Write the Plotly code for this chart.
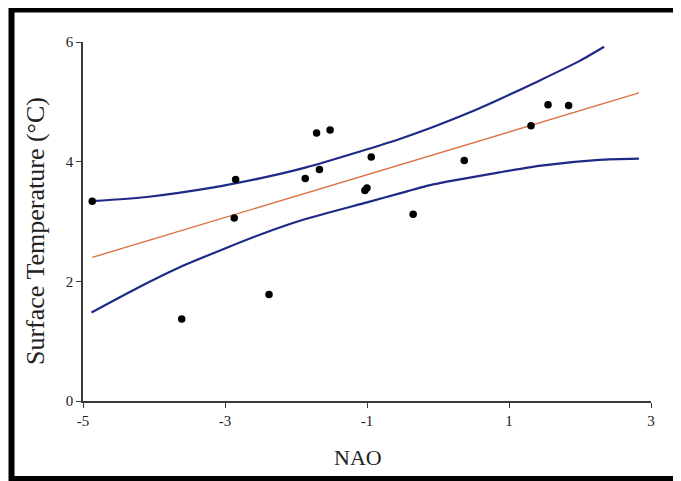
import plotly.graph_objects as go

# Observations (NAO index vs surface temperature)
nao = [-4.87, -3.61, -2.87, -2.85, -2.38, -1.87, -1.71, -1.67, -1.52,
       -1.03, -1.00, -0.94, -0.35, 0.37, 1.31, 1.55, 1.84]
temp = [3.34, 1.37, 3.06, 3.70, 1.78, 3.72, 4.48, 3.87, 4.53,
        3.52, 3.56, 4.08, 3.12, 4.02, 4.60, 4.95, 4.94]

# Regression line
fit_x = [-4.87, 2.83]
fit_y = [2.40, 5.15]

# Upper confidence band
up_x = [-4.87, -4.10, -3.16, -2.51, -1.87, -1.10, -0.54, -0.07, 0.40, 0.86, 1.42, 1.99, 2.34]
up_y = [3.34, 3.41, 3.57, 3.72, 3.90, 4.17, 4.38, 4.58, 4.80, 5.04, 5.35, 5.68, 5.92]

# Lower confidence band
lo_x = [-4.88, -4.20, -3.63, -3.00, -2.51, -1.90, -1.00, -0.54, -0.07, 0.86, 1.42, 2.27, 2.83]
lo_y = [1.48, 1.91, 2.24, 2.55, 2.78, 3.03, 3.32, 3.47, 3.62, 3.82, 3.93, 4.03, 4.05]

x_ticks = [-5, -3, -1, 1, 3]
x_tick_labels = ["-5", "-3", "-1", "1", "3"]
y_ticks = [0, 2, 4, 6]
y_tick_labels = ["0", "2", "4", "6"]

BLUE = "#1f2a86"
ORANGE = "#d9733f"
AXIS = "#3a3a3a"
TEXT = "#222222"
FONT = "Liberation Serif"

fig = go.Figure()
fig.add_trace(go.Scatter(x=up_x, y=up_y, mode="lines",
                         line=dict(color=BLUE, width=2.2, shape="spline", smoothing=0.6),
                         hoverinfo="skip"))
fig.add_trace(go.Scatter(x=lo_x, y=lo_y, mode="lines",
                         line=dict(color=BLUE, width=2.2, shape="spline", smoothing=0.6),
                         hoverinfo="skip"))
fig.add_trace(go.Scatter(x=fit_x, y=fit_y, mode="lines",
                         line=dict(color=ORANGE, width=1.4), hoverinfo="skip"))
fig.add_trace(go.Scatter(x=nao, y=temp, mode="markers",
                         marker=dict(color="black", size=7.5)))

# page has an 8px body margin, so the figure is sized to fill the window
W, H = 673, 473
L, R, T, B = 75, 30, 34, 80
pw, ph = W - L - R, H - T - B


def px(xp):
    return (xp - L) / pw


def py(yp):
    return (H - B - yp) / ph


fig.update_layout(
    width=W, height=H,
    margin=dict(l=L, r=R, t=T, b=B),
    paper_bgcolor="white", plot_bgcolor="white",
    showlegend=False,
    font=dict(family=FONT, color=TEXT),
    xaxis=dict(range=[-5, 3], tickvals=x_ticks, ticktext=x_tick_labels,
               showgrid=False, zeroline=False, showline=True, linecolor=AXIS,
               linewidth=1.5, ticks="outside", ticklen=5, tickcolor=AXIS,
               tickfont=dict(family=FONT, size=15, color=TEXT),
               automargin=False),
    yaxis=dict(range=[0, 6], tickvals=y_ticks, ticktext=y_tick_labels,
               showgrid=False, zeroline=False, showline=True, linecolor=AXIS,
               linewidth=1.5, ticks="outside", ticklen=5, tickcolor=AXIS,
               tickfont=dict(family=FONT, size=15, color=TEXT),
               automargin=False),
    annotations=[
        dict(text="NAO", xref="paper", yref="paper", x=px(350), y=py(449),
             xanchor="center", yanchor="middle", showarrow=False,
             font=dict(family=FONT, size=22, color=TEXT)),
        dict(text="Surface Temperature (°C)", xref="paper", yref="paper",
             x=px(27), y=py(223), xanchor="center", yanchor="middle",
             textangle=-90, showarrow=False,
             font=dict(family=FONT, size=26, color=TEXT)),
    ],
    shapes=[dict(type="rect", xref="paper", yref="paper",
                 x0=px(3.5), x1=px(671), y0=py(471), y1=py(1.5),
                 line=dict(color="black", width=6), fillcolor="rgba(0,0,0,0)",
                 layer="above")],
)

fig.write_html("out.html")
